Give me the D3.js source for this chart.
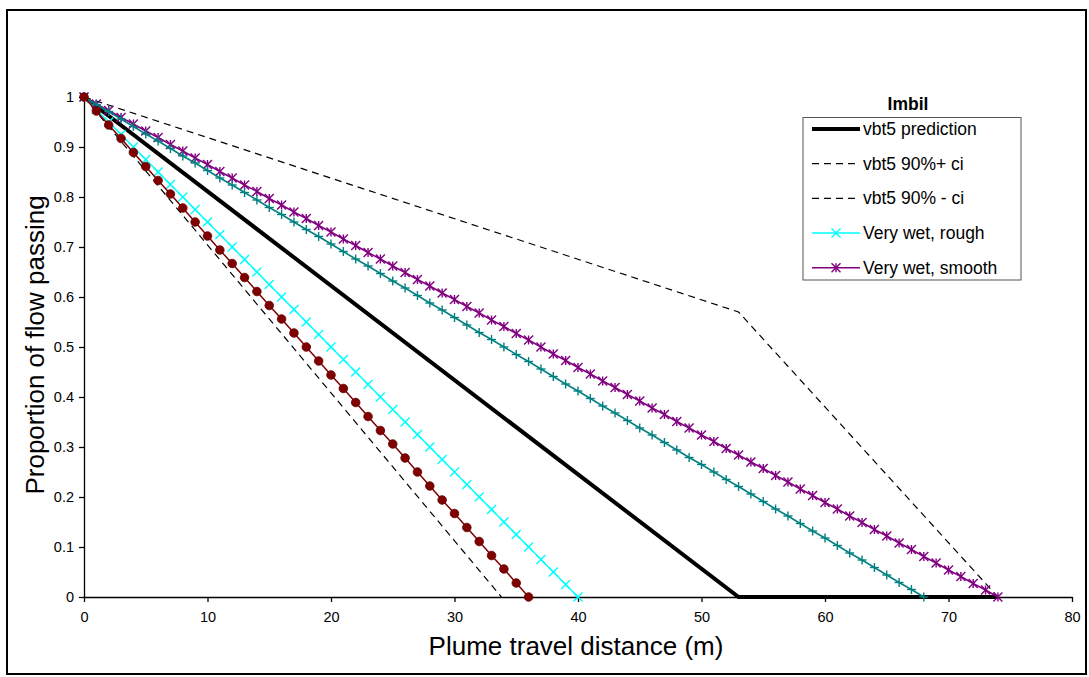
<!DOCTYPE html>
<html>
<head>
<meta charset="utf-8">
<script src="https://cdn.jsdelivr.net/npm/d3@7"></script>
<style>
  body { margin: 0; background: #fff; }
  svg text { font-family: "Liberation Sans", Arial, sans-serif; }
</style>
</head>
<body>
<div id="chart"></div>
<script>
// ---- data ----
var xTicks = [0, 10, 20, 30, 40, 50, 60, 70, 80];
var yTicks = [0, 0.1, 0.2, 0.3, 0.4, 0.5, 0.6, 0.7, 0.8, 0.9, 1];

var predX = [0, 53, 74];
var predY = [1, 0, 0];

var ciPlusX = [0, 53, 74];
var ciPlusY = [1, 0.57, 0];

var ciMinusX = [0, 33.8];
var ciMinusY = [1, 0];

// Very wet, rough (cyan x), 0..40 m
var roughY = [1, 0.975, 0.95, 0.925, 0.9, 0.875, 0.85, 0.825, 0.8, 0.775, 0.75, 0.725, 0.7, 0.675,
  0.65, 0.625, 0.6, 0.575, 0.55, 0.525, 0.5, 0.475, 0.45, 0.425, 0.4, 0.375, 0.35, 0.325, 0.3,
  0.275, 0.25, 0.225, 0.2, 0.175, 0.15, 0.125, 0.1, 0.075, 0.05, 0.025, 0];

// Very wet, smooth (purple star), 0..74 m
var smoothY = [1, 0.986, 0.973, 0.959, 0.946, 0.932, 0.919, 0.905, 0.892, 0.878, 0.865, 0.851, 0.838,
  0.824, 0.811, 0.797, 0.784, 0.77, 0.757, 0.743, 0.73, 0.716, 0.703, 0.689, 0.676, 0.662, 0.649,
  0.635, 0.622, 0.608, 0.595, 0.581, 0.568, 0.554, 0.541, 0.527, 0.514, 0.5, 0.486, 0.473, 0.459,
  0.446, 0.432, 0.419, 0.405, 0.392, 0.378, 0.365, 0.351, 0.338, 0.324, 0.311, 0.297, 0.284, 0.27,
  0.257, 0.243, 0.23, 0.216, 0.203, 0.189, 0.176, 0.162, 0.149, 0.135, 0.122, 0.108, 0.095, 0.081,
  0.068, 0.054, 0.041, 0.027, 0.014, 0];

// teal plus series (not in legend), 0..68 m
var tealY = [1, 0.985, 0.971, 0.956, 0.941, 0.926, 0.912, 0.897, 0.882, 0.868, 0.853, 0.838, 0.824,
  0.809, 0.794, 0.779, 0.765, 0.75, 0.735, 0.721, 0.706, 0.691, 0.676, 0.662, 0.647, 0.632, 0.618,
  0.603, 0.588, 0.574, 0.559, 0.544, 0.529, 0.515, 0.5, 0.485, 0.471, 0.456, 0.441, 0.426, 0.412,
  0.397, 0.382, 0.368, 0.353, 0.338, 0.324, 0.309, 0.294, 0.279, 0.265, 0.25, 0.235, 0.221, 0.206,
  0.191, 0.176, 0.162, 0.147, 0.132, 0.118, 0.103, 0.088, 0.074, 0.059, 0.044, 0.029, 0.015, 0];

// dark red circle series (not in legend), 0..36 m
var redY = [1, 0.972, 0.944, 0.917, 0.889, 0.861, 0.833, 0.806, 0.778, 0.75, 0.722, 0.694, 0.667,
  0.639, 0.611, 0.583, 0.556, 0.528, 0.5, 0.472, 0.444, 0.417, 0.389, 0.361, 0.333, 0.306, 0.278,
  0.25, 0.222, 0.194, 0.167, 0.139, 0.111, 0.083, 0.056, 0.028, 0];

var legendNames = ["vbt5 prediction", "vbt5 90%+ ci", "vbt5 90% - ci", "Very wet, rough", "Very wet, smooth"];

// ---- layout ----
var W = 1089, H = 677;
var plot = { left: 84, top: 97, right: 1072, bottom: 597 };

var svg = d3.select("#chart")
  .append("svg")
  .attr("width", W)
  .attr("height", H);

svg.append("rect")
  .attr("x", 7).attr("y", 10)
  .attr("width", 1079).attr("height", 664)
  .attr("fill", "white")
  .attr("stroke", "black")
  .attr("stroke-width", 2);

var xScale = d3.scaleLinear().domain([0, 80]).range([plot.left, plot.right]);
var yScale = d3.scaleLinear().domain([0, 1]).range([plot.bottom, plot.top]);

function pts(xs, ys) {
  return ys.map(function(v, i) { return { x: xs ? xs[i] : i, y: v }; });
}

var line = d3.line()
  .x(function(d) { return xScale(d.x); })
  .y(function(d) { return yScale(d.y); });

// axes
var xAxis = d3.axisBottom(xScale).tickValues(xTicks).tickSize(5).tickSizeOuter(0);
svg.append("g")
  .attr("class", "axis x-axis")
  .attr("transform", "translate(0," + plot.bottom + ")")
  .call(xAxis);

var yAxis = d3.axisLeft(yScale).tickValues(yTicks).tickSize(5).tickSizeOuter(0)
  .tickFormat(function(d) { return d3.format("")(+d.toFixed(1)); });
svg.append("g")
  .attr("class", "axis y-axis")
  .attr("transform", "translate(" + plot.left + ",0)")
  .call(yAxis);

svg.selectAll(".axis path, .axis line")
  .attr("stroke", "black")
  .attr("stroke-width", 1.3);
svg.selectAll(".axis text")
  .attr("fill", "black")
  .style("font-size", "14.5px");
svg.selectAll(".x-axis text").attr("dy", "1.2em");
svg.selectAll(".y-axis text").attr("x", -10);

// marker shapes
function drawMarker(g, type, color) {
  var s = 4.5;
  if (type === "x" || type === "star") {
    g.append("line").attr("x1", -s).attr("y1", -s).attr("x2", s).attr("y2", s);
    g.append("line").attr("x1", -s).attr("y1", s).attr("x2", s).attr("y2", -s);
  }
  if (type === "plus" || type === "star") {
    g.append("line").attr("x1", 0).attr("y1", -s).attr("x2", 0).attr("y2", s);
  }
  if (type === "plus") {
    g.append("line").attr("x1", -s).attr("y1", 0).attr("x2", s).attr("y2", 0);
  }
  if (type === "circle") {
    g.append("circle").attr("r", 4.3).attr("fill", color).attr("stroke", "#600000").attr("stroke-width", 0.8);
  }
  g.selectAll("line").attr("stroke", color).attr("stroke-width", 1.4);
}

function drawSeries(data, color, width, dash, marker) {
  svg.append("path")
    .datum(data)
    .attr("d", line)
    .attr("fill", "none")
    .attr("stroke", color)
    .attr("stroke-width", width)
    .attr("stroke-dasharray", dash);

  if (marker) {
    svg.selectAll(".m-" + marker)
      .data(data)
      .enter()
      .append("g")
      .attr("class", "m-" + marker)
      .attr("transform", function(d) { return "translate(" + xScale(d.x) + "," + yScale(d.y) + ")"; })
      .each(function() { drawMarker(d3.select(this), marker, color); });
  }
}

drawSeries(pts(predX, predY), "black", 4, null, null);
drawSeries(pts(ciPlusX, ciPlusY), "black", 1.2, "7,5", null);
drawSeries(pts(ciMinusX, ciMinusY), "black", 1.2, "7,5", null);
drawSeries(pts(null, roughY), "#00ffff", 1.5, null, "x");
drawSeries(pts(null, smoothY), "#800080", 1.5, null, "star");
drawSeries(pts(null, tealY), "#008080", 1.5, null, "plus");
drawSeries(pts(null, redY), "#800000", 1.5, null, "circle");

// axis titles
svg.append("text")
  .attr("x", 576)
  .attr("y", 655)
  .attr("text-anchor", "middle")
  .style("font-size", "26px")
  .text("Plume travel distance (m)");

svg.append("text")
  .attr("transform", "translate(44,345) rotate(-90)")
  .attr("text-anchor", "middle")
  .style("font-size", "26px")
  .text("Proportion of flow passing");

// legend
svg.append("text")
  .attr("x", 908)
  .attr("y", 110)
  .attr("text-anchor", "middle")
  .style("font-size", "17.5px")
  .style("font-weight", "bold")
  .text("Imbil");

var legend = svg.append("g");
legend.append("rect")
  .attr("x", 803).attr("y", 117.5)
  .attr("width", 218).attr("height", 162.5)
  .attr("fill", "white")
  .attr("stroke", "#555")
  .attr("stroke-width", 1);

var legendStyles = [
  { color: "black", width: 4, dash: null, marker: null },
  { color: "black", width: 1.2, dash: "7,5", marker: null },
  { color: "black", width: 1.2, dash: "7,5", marker: null },
  { color: "#00ffff", width: 1.5, dash: null, marker: "x" },
  { color: "#800080", width: 1.5, dash: null, marker: "star" }
];

legendNames.forEach(function(name, i) {
  var y = 129 + i * 34.7;
  var st = legendStyles[i];
  legend.append("line")
    .attr("x1", 812).attr("x2", 860)
    .attr("y1", y).attr("y2", y)
    .attr("stroke", st.color)
    .attr("stroke-width", st.width)
    .attr("stroke-dasharray", st.dash);
  if (st.marker) {
    var g = legend.append("g").attr("transform", "translate(836," + y + ")");
    drawMarker(g, st.marker, st.color);
  }
  legend.append("text")
    .attr("x", 863)
    .attr("y", y + 6)
    .style("font-size", "17.5px")
    .text(name);
});
</script>
</body>
</html>
